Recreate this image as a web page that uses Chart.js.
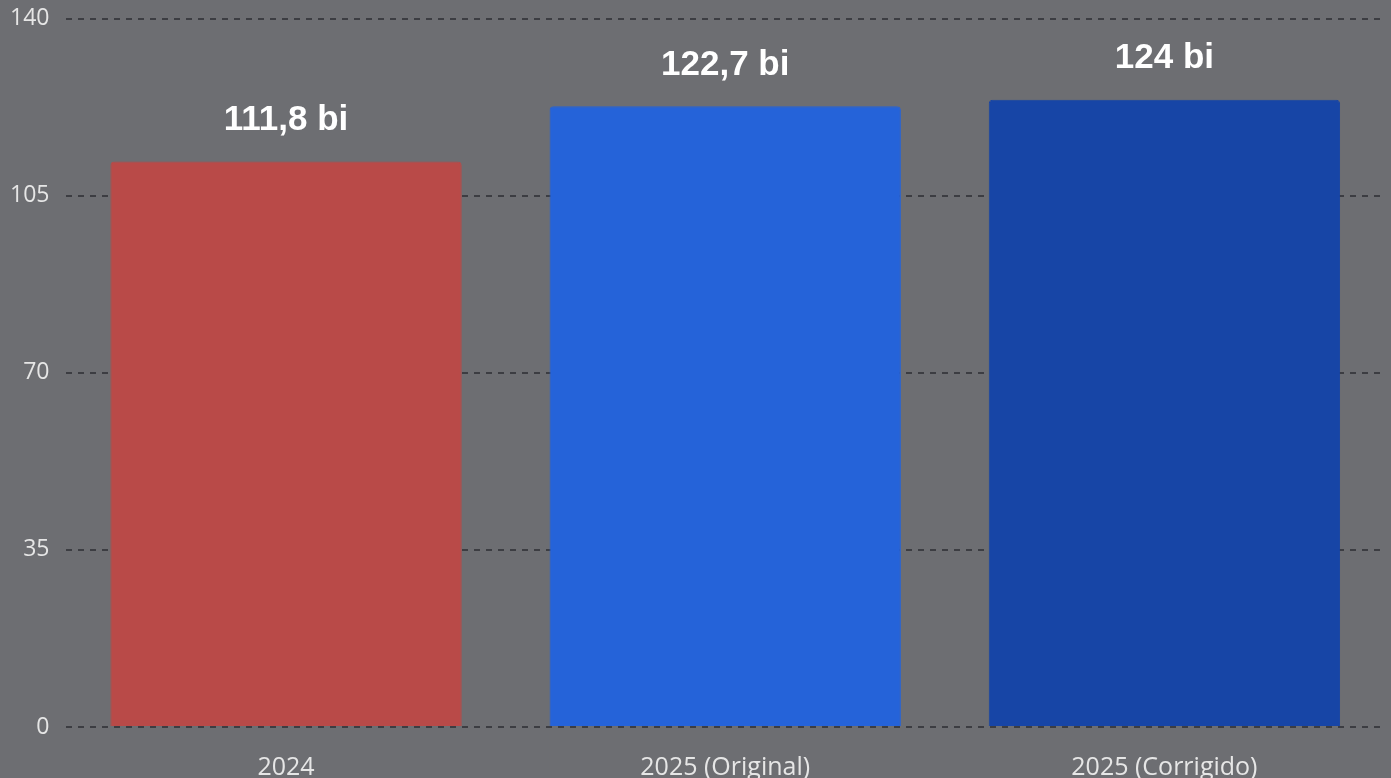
<!DOCTYPE html>
<html>
<head>
<meta charset="utf-8">
<script src="https://cdn.jsdelivr.net/npm/chart.js@4"></script>
<style>
  html, body { margin: 0; padding: 0; background: #6d6e72; overflow: hidden; }
  canvas { display: block; margin-top: -12px; }
</style>
</head>
<body>
<canvas id="myChart" width="1391" height="831"></canvas>
<script>
var categories = ['2024', '2025 (Original)', '2025 (Corrigido)'];
var values = [111.8, 122.7, 124];
var valueLabels = ['111,8 bi', '122,7 bi', '124 bi'];
var yTicks = [0, 35, 70, 105, 140];

var COLORS = ['#b94a48', '#2563d9', '#1745a6'];

// draws the "xx bi" label above each bar
var topLabels = {
    id: 'topLabels',
    afterDatasetsDraw: function(chart) {
        var ctx = chart.ctx;
        var meta = chart.getDatasetMeta(0);
        ctx.save();
        ctx.fillStyle = '#ffffff';
        ctx.font = 'bold 35px "Liberation Sans", Arial, sans-serif';
        ctx.textAlign = 'center';
        ctx.textBaseline = 'middle';
        meta.data.forEach(function(bar, i) {
            ctx.fillText(valueLabels[i], bar.x, bar.y - 41);
        });
        ctx.restore();
    }
};

var ctx = document.getElementById('myChart');
var myBarChart = new Chart(ctx, {
    type: 'bar',
    data: {
        labels: categories,
        datasets: [{
            data: values,
            backgroundColor: COLORS,
            borderColor: COLORS,
            borderWidth: 1,
            borderRadius: { topLeft: 4, topRight: 4 },
            borderSkipped: 'bottom',
            categoryPercentage: 1,
            barPercentage: 0.8
        }]
    },
    options: {
        responsive: false,
        animation: false,
        layout: { padding: { top: 0, right: 7, left: -7, bottom: 18 } },
        plugins: {
            legend: { display: false },
            tooltip: { enabled: false }
        },
        scales: {
            x: {
                grid: { display: false },
                border: { display: false },
                ticks: {
                    color: '#e6e6e6',
                    font: { family: '"Open Sans", sans-serif', size: 25 },
                    padding: 18
                }
            },
            y: {
                min: 0,
                max: 140,
                afterBuildTicks: function(axis) {
                    axis.ticks = yTicks.map(function(v) { return { value: v }; });
                },
                grid: {
                    color: '#3c3d42',
                    lineWidth: 2,
                    drawTicks: false
                },
                border: { display: false, dash: [6, 6] },
                ticks: {
                    color: '#e6e6e6',
                    font: { family: '"Open Sans", sans-serif', size: 23 },
                    padding: 17
                }
            }
        }
    },
    plugins: [topLabels]
});
</script>
</body>
</html>
